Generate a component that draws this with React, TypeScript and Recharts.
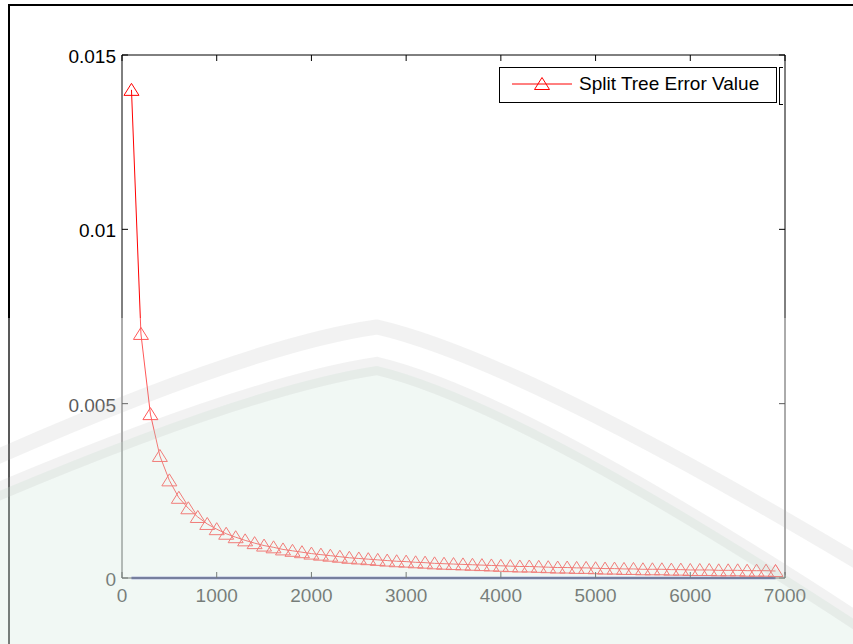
import { LineChart, Line, XAxis, YAxis, Legend } from "recharts";

// sample count (x) and split tree error (y)
const sampleSizes = [
  100, 200, 300, 400, 500, 600, 700, 800, 900, 1000,
  1100, 1200, 1300, 1400, 1500, 1600, 1700, 1800, 1900, 2000,
  2100, 2200, 2300, 2400, 2500, 2600, 2700, 2800, 2900, 3000,
  3100, 3200, 3300, 3400, 3500, 3600, 3700, 3800, 3900, 4000,
  4100, 4200, 4300, 4400, 4500, 4600, 4700, 4800, 4900, 5000,
  5100, 5200, 5300, 5400, 5500, 5600, 5700, 5800, 5900, 6000,
  6100, 6200, 6300, 6400, 6500, 6600, 6700, 6800, 6900,
];

const splitTreeError = [
  0.014, 0.007, 0.0047, 0.0035, 0.0028, 0.0023, 0.002, 0.00175, 0.00155, 0.0014,
  0.00127, 0.00117, 0.00108, 0.001, 0.00093, 0.00088, 0.00082, 0.00078, 0.00074, 0.0007,
  0.00067, 0.00064, 0.00061, 0.00058, 0.00056, 0.00054, 0.00052, 0.0005, 0.00048, 0.00047,
  0.00045, 0.00044, 0.00042, 0.00041, 0.0004, 0.00039, 0.00038, 0.00037, 0.00036, 0.00035,
  0.00034, 0.00033, 0.00033, 0.00032, 0.00031, 0.0003, 0.0003, 0.00029, 0.00029, 0.00028,
  0.00027, 0.00027, 0.00026, 0.00026, 0.00025, 0.00025, 0.00025, 0.00024, 0.00024, 0.00023,
  0.00023, 0.00023, 0.00022, 0.00022, 0.00022, 0.00021, 0.00021, 0.00021, 0.0002,
];

// flat blue line along zero
const baselineSizes = [100, 6900];
const baselineValues = [0, 0];

const xTicks = [0, 1000, 2000, 3000, 4000, 5000, 6000, 7000];
const yTicks = [0, 0.005, 0.01, 0.015];
const seriesName = "Split Tree Error Value";

const FONT = "'Liberation Sans', Arial, sans-serif";
const TICK_LEN = 6;

const data = sampleSizes.map((x, i) => ({ x, error: splitTreeError[i] }));
const baseline = baselineSizes.map((x, i) => ({ x, zero: baselineValues[i] }));

const triangle = (cx: number, cy: number) =>
  `M${cx},${cy - 6.5} L${cx + 7.5},${cy + 5.5} L${cx - 7.5},${cy + 5.5} Z`;

const TriangleDot = (props: any) => {
  const { cx, cy, index } = props;
  if (cx == null || cy == null) return <g key={index} />;
  return <path key={index} d={triangle(cx, cy)} fill="none" stroke="#ff0000" strokeWidth={1} />;
};

const BottomTick = (props: any) => {
  const { x, y, payload } = props;
  return (
    <g>
      <line x1={x} y1={y} x2={x} y2={y - TICK_LEN} stroke="#000" />
      <text x={x} y={y + 24} textAnchor="middle" fontSize={19} fontFamily={FONT} fill="#000">
        {payload.value}
      </text>
    </g>
  );
};

const TopTick = (props: any) => {
  const { x, y } = props;
  return <line x1={x} y1={y} x2={x} y2={y + TICK_LEN} stroke="#000" />;
};

const LeftTick = (props: any) => {
  const { x, y, payload } = props;
  const v = payload.value === 0 ? "0" : String(payload.value);
  return (
    <g>
      <line x1={x} y1={y} x2={x + TICK_LEN} y2={y} stroke="#000" />
      <text x={x - 6} y={y + 8} textAnchor="end" fontSize={19} fontFamily={FONT} fill="#000">
        {v}
      </text>
    </g>
  );
};

const RightTick = (props: any) => {
  const { x, y } = props;
  return <line x1={x} y1={y} x2={x - TICK_LEN} y2={y} stroke="#000" />;
};

const LegendBox = () => (
  <div
    style={{
      position: "relative",
      width: 278,
      height: 36,
      boxSizing: "border-box",
      border: "1px solid #000",
      background: "#fff",
    }}
  >
    <svg width={80} height={34} style={{ position: "absolute", left: 0, top: 0 }}>
      <line x1={12} y1={16} x2={72} y2={16} stroke="#ff0000" />
      <path d={triangle(42, 16)} fill="none" stroke="#ff0000" />
    </svg>
    <span
      style={{
        position: "absolute",
        left: 79,
        top: 5,
        fontFamily: FONT,
        fontSize: 19,
        lineHeight: "22px",
        color: "#000",
        whiteSpace: "nowrap",
      }}
    >
      {seriesName}
    </span>
    <div
      style={{
        position: "absolute",
        left: 279,
        top: -1,
        width: 3,
        height: 36,
        borderLeft: "1px solid #000",
        borderTop: "1px solid #000",
        borderBottom: "1px solid #000",
      }}
    />
  </div>
);

export default function App() {
  return (
    <div style={{ position: "absolute", left: 0, top: 0, width: 853, height: 644, background: "#fff", overflow: "hidden" }}>
      {/* figure frame, cropped on the right and bottom */}
      <div
        style={{
          position: "absolute",
          left: 8,
          top: 4,
          width: 845,
          height: 640,
          borderTop: "2px solid #000",
          borderLeft: "2px solid #000",
        }}
      />
      <div style={{ position: "absolute", left: 0, top: 0 }}>
        <LineChart width={853} height={644} data={data} margin={{ top: 54, right: 67, bottom: 0, left: 0 }}>
          <XAxis
            dataKey="x"
            type="number"
            domain={[0, 7000]}
            ticks={xTicks}
            interval={0}
            height={66}
            tickSize={0}
            tickMargin={0}
            tickLine={false}
            tick={BottomTick}
            axisLine={{ stroke: "#000" }}
          />
          <XAxis
            xAxisId="top"
            orientation="top"
            dataKey="x"
            type="number"
            domain={[0, 7000]}
            ticks={xTicks}
            interval={0}
            height={1}
            tickSize={0}
            tickMargin={0}
            tickLine={false}
            tick={TopTick}
            axisLine={{ stroke: "#000" }}
          />
          <YAxis
            type="number"
            domain={[0, 0.015]}
            ticks={yTicks}
            interval={0}
            width={122}
            tickSize={0}
            tickMargin={0}
            tickLine={false}
            tick={LeftTick}
            axisLine={{ stroke: "#000" }}
          />
          <YAxis
            yAxisId="right"
            orientation="right"
            type="number"
            domain={[0, 0.015]}
            ticks={yTicks}
            interval={0}
            width={1}
            tickSize={0}
            tickMargin={0}
            tickLine={false}
            tick={RightTick}
            axisLine={{ stroke: "#000" }}
          />
          <Legend
            layout="vertical"
            align="center"
            verticalAlign="middle"
            wrapperStyle={{ left: 499, top: 67, width: 282, height: 36 }}
            content={LegendBox}
          />
          <Line
            dataKey="error"
            name={seriesName}
            type="linear"
            stroke="#ff0000"
            strokeWidth={1}
            dot={TriangleDot}
            isAnimationActive={false}
          />
          <Line
            data={baseline}
            dataKey="zero"
            xAxisId="top"
            yAxisId="right"
            type="linear"
            stroke="#000a9a"
            strokeWidth={2.5}
            dot={false}
            legendType="none"
            isAnimationActive={false}
          />
        </LineChart>
      </div>
      {/* faded watermark laid over the lower part of the page */}
      <svg width={853} height={644} style={{ position: "absolute", left: 0, top: 0, pointerEvents: "none" }}>
        <rect x={0} y={318} width={853} height={326} fill="#fff" fillOpacity={0.35} />
        <path d="M-10,495 Q250,385 377,366 Q520,400 863,625 L863,654 L-10,654 Z" fill="#c8e4d4" fillOpacity={0.26} />
        <path d="M-10,460 Q250,345 377,327 Q520,360 863,565" fill="none" stroke="#b0b0b0" strokeOpacity={0.16} strokeWidth={15} />
        <path d="M-10,495 Q250,385 377,366 Q520,400 863,625" fill="none" stroke="#b0b0b0" strokeOpacity={0.16} strokeWidth={18} />
      </svg>
    </div>
  );
}
